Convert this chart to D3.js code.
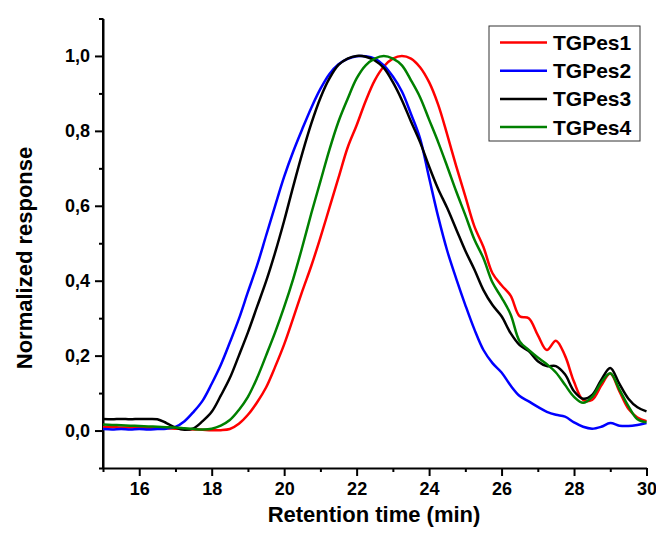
<!DOCTYPE html>
<html><head><meta charset="utf-8">
<script src="https://cdn.jsdelivr.net/npm/d3@7"></script>
<style>body{margin:0;background:#fff}svg{display:block}</style>
</head><body>
<svg id="c" width="656" height="538"></svg>
<script>
const times = [15,15.25,15.5,15.75,16,16.25,16.5,16.75,17,17.25,17.5,17.75,18,18.25,18.5,18.75,19,19.25,19.5,19.75,20,20.25,20.5,20.75,21,21.25,21.5,21.75,22,22.25,22.5,22.75,23,23.25,23.5,23.75,24,24.25,24.5,24.75,25,25.25,25.5,25.75,26,26.25,26.5,26.75,27,27.25,27.5,27.75,28,28.25,28.5,28.75,29,29.25,29.5,29.75,30];
const seriesNames = ["TGPes1","TGPes2","TGPes3","TGPes4"];
const seriesColors = ["#ff0000","#0000ff","#000000","#008000"];
const tgpes1 = [0.009,0.009,0.008,0.008,0.008,0.007,0.007,0.006,
  0.005,0.004,0.003,0.002,0.001,0.001,0.004,0.018,
  0.042,0.075,0.115,0.17,0.23,0.3,0.372,0.44,
  0.515,0.595,0.675,0.755,0.815,0.88,0.935,0.972,
  0.993,1.0,0.993,0.97,0.93,0.87,0.79,0.705,
  0.625,0.545,0.49,0.42,0.388,0.36,0.305,0.3,
  0.255,0.215,0.24,0.2,0.13,0.082,0.082,0.12,
  0.152,0.105,0.058,0.035,0.025];
const tgpes2 = [0.004,0.003,0.004,0.003,0.004,0.003,0.004,0.005,
  0.01,0.025,0.05,0.08,0.125,0.175,0.235,0.298,
  0.37,0.44,0.52,0.6,0.678,0.745,0.805,0.862,
  0.912,0.952,0.978,0.992,0.999,0.999,0.993,0.975,
  0.945,0.905,0.845,0.78,0.675,0.571,0.48,0.405,
  0.335,0.27,0.215,0.18,0.155,0.12,0.092,0.078,
  0.063,0.05,0.042,0.037,0.022,0.01,0.005,0.01,
  0.02,0.013,0.012,0.015,0.02];
const tgpes3 = [0.031,0.030,0.031,0.030,0.031,0.031,0.030,0.020,
  0.008,0.002,0.006,0.025,0.05,0.093,0.14,0.2,
  0.262,0.33,0.398,0.475,0.56,0.652,0.74,0.82,
  0.888,0.94,0.976,0.993,1.0,0.998,0.988,0.968,
  0.93,0.882,0.825,0.77,0.705,0.645,0.594,0.537,
  0.48,0.43,0.375,0.335,0.305,0.26,0.228,0.212,
  0.185,0.172,0.172,0.15,0.105,0.085,0.095,0.135,
  0.167,0.125,0.085,0.062,0.051];
const tgpes4 = [0.016,0.015,0.014,0.013,0.012,0.011,0.01,0.009,
  0.008,0.006,0.004,0.003,0.005,0.013,0.028,0.055,
  0.09,0.14,0.2,0.262,0.33,0.405,0.49,0.58,
  0.665,0.75,0.825,0.885,0.94,0.975,0.993,1.0,
  0.993,0.975,0.935,0.89,0.83,0.77,0.705,0.638,
  0.575,0.51,0.46,0.395,0.355,0.31,0.238,0.215,
  0.195,0.177,0.155,0.122,0.09,0.074,0.09,0.128,
  0.153,0.11,0.065,0.03,0.022];
const xMajorTicks = [16,18,20,22,24,26,28,30];
const xMinorTicks = [15,17,19,21,23,25,27,29];
const yMajorTicks = [0,0.2,0.4,0.6,0.8,1.0];
const yMinorTicks = [-0.1,0.1,0.3,0.5,0.7,0.9,1.1];
const xTitle = "Retention time (min)";
const yTitle = "Normalized response";

const allSeries = [tgpes1,tgpes2,tgpes3,tgpes4];
const FONT = "'Liberation Sans', Arial, Helvetica, sans-serif";
const svg = d3.select('#c');
const x = d3.scaleLinear().domain([15,30]).range([103,646.5]);
const y = d3.scaleLinear().domain([-0.1,1.1]).range([468,18.5]);

function styleAxis(g){
  g.selectAll('path,line').attr('stroke','#000').attr('stroke-width',2);
  g.selectAll('text').attr('font-family',FONT).attr('font-weight','bold').attr('font-size',18).attr('fill','#000');
}
// minor ticks
svg.append('g').attr('transform',`translate(0,${y(-0.1)})`)
  .call(d3.axisBottom(x).tickValues(xMinorTicks).tickSize(4).tickFormat(''))
  .call(g=>g.select('.domain').remove()).call(styleAxis);
svg.append('g').attr('transform',`translate(${x(15)},0)`)
  .call(d3.axisLeft(y).tickValues(yMinorTicks).tickSize(4).tickFormat(''))
  .call(g=>g.select('.domain').remove()).call(styleAxis);
// major axes
svg.append('g').attr('transform',`translate(0,${y(-0.1)})`)
  .call(d3.axisBottom(x).tickValues(xMajorTicks).tickSize(8).tickSizeOuter(0).tickPadding(6).tickFormat(d3.format('d')))
  .call(styleAxis);
svg.append('g').attr('transform',`translate(${x(15)},0)`)
  .call(d3.axisLeft(y).tickValues(yMajorTicks).tickSize(8).tickSizeOuter(0).tickPadding(5)
     .tickFormat(d=>d.toFixed(1).replace('.',',')))
  .call(styleAxis);
svg.append('line').attr('x1',x(15)).attr('x2',x(15)).attr('y1',y(1.1)).attr('y2',y(-0.1)+1).attr('stroke','#000').attr('stroke-width',2);

// curves
const line = d3.line().x((d,i)=>x(times[i])).y(d=>y(d)).curve(d3.curveCatmullRom.alpha(0.5));
allSeries.forEach((s,k)=>{
  svg.append('path').datum(s).attr('d',line).attr('fill','none')
    .attr('stroke',seriesColors[k]).attr('stroke-width',2.5).attr('stroke-linejoin','round');
});

// titles
svg.append('text').attr('x',374).attr('y',522).attr('text-anchor','middle')
  .attr('font-family',FONT).attr('font-weight','bold').attr('font-size',22).text(xTitle);
svg.append('text').attr('transform','translate(32,258) rotate(-90)').attr('text-anchor','middle')
  .attr('font-family',FONT).attr('font-weight','bold').attr('font-size',22).text(yTitle);

// legend
const lg = svg.append('g');
lg.append('rect').attr('x',489).attr('y',26).attr('width',151).attr('height',115)
  .attr('fill','#fff').attr('stroke','#333').attr('stroke-width',1);
seriesNames.forEach((n,k)=>{
  const ly = 42.5 + k*28.2;
  lg.append('line').attr('x1',500).attr('x2',547).attr('y1',ly).attr('y2',ly)
    .attr('stroke',seriesColors[k]).attr('stroke-width',2.5);
  lg.append('text').attr('x',553).attr('y',ly+7.5).attr('font-family',FONT)
    .attr('font-weight','bold').attr('font-size',21).text(n);
});
</script>
</body></html>
